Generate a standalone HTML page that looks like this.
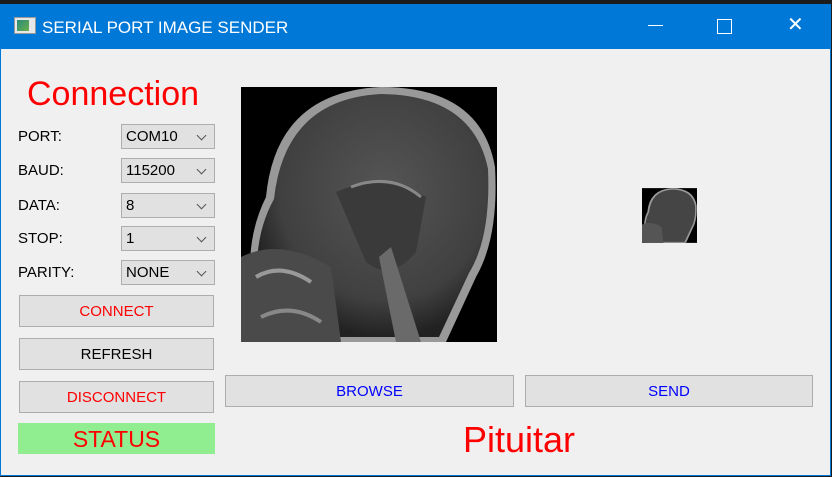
<!DOCTYPE html>
<html><head><meta charset="utf-8">
<style>
*{box-sizing:border-box;margin:0;padding:0}
body{width:832px;height:477px;overflow:hidden;background:#1c1c1c;font-family:"Liberation Sans",sans-serif;position:relative}
.abs{position:absolute}
.win{left:0;top:4px;width:831px;height:472px;background:#f0f0f0;border:1px solid #0078d7}
.title{left:0;top:4px;width:831px;height:45px;background:#0078d7;color:#fff}
.lbl{font-size:15px;color:#000}
.combo{width:94px;height:25px;border:1px solid #adadad;background:#e1e1e1;font-size:15px;padding:3px 0 0 4px;color:#000}
.combo:after{content:"";position:absolute;right:9px;top:7px;width:6px;height:6px;border-right:1px solid #555;border-bottom:1px solid #555;transform:rotate(45deg)}
.btn{border:1px solid #adadad;background:#e1e1e1;font-size:15px;text-align:center;display:flex;align-items:center;justify-content:center}
</style></head><body>
<div class="abs win"></div>
<div class="abs title">
 <div class="abs" style="left:14px;top:13px;width:22px;height:17px;background:#e8e8e8;border:1px solid #999">
  <div class="abs" style="left:2px;top:2px;width:12px;height:11px;background:linear-gradient(135deg,#2a8a7a,#6ab04c)"></div></div>
 <div class="abs" style="left:42px;top:14px;font-size:17px">SERIAL PORT IMAGE SENDER</div>
 <div class="abs" style="left:648px;top:21px;width:15px;height:1px;background:#fff"></div>
 <div class="abs" style="left:717px;top:15px;width:15px;height:15px;border:1px solid #fff"></div>
 <div class="abs" style="left:787px;top:10px;width:20px;height:22px;color:#fff;font-size:20px;line-height:22px;font-weight:100">✕</div>
</div>
<div class="abs" style="left:27px;top:75px;font-size:34px;color:#ff0000">Connection</div>

<div class="abs lbl" style="left:18px;top:128px">PORT:</div>
<div class="abs combo" style="left:121px;top:124px">COM10</div>
<div class="abs lbl" style="left:18px;top:162px">BAUD:</div>
<div class="abs combo" style="left:121px;top:158px">115200</div>
<div class="abs lbl" style="left:18px;top:197px">DATA:</div>
<div class="abs combo" style="left:121px;top:193px">8</div>
<div class="abs lbl" style="left:18px;top:230px">STOP:</div>
<div class="abs combo" style="left:121px;top:226px">1</div>
<div class="abs lbl" style="left:18px;top:264px">PARITY:</div>
<div class="abs combo" style="left:121px;top:260px">NONE</div>

<div class="abs btn" style="left:19px;top:295px;width:195px;height:32px;color:#ff0000">CONNECT</div>
<div class="abs btn" style="left:19px;top:338px;width:195px;height:32px;color:#000">REFRESH</div>
<div class="abs btn" style="left:19px;top:381px;width:195px;height:32px;color:#ff0000">DISCONNECT</div>
<div class="abs" style="left:18px;top:423px;width:197px;height:31px;background:#90ee90;color:#ff0000;font-size:23px;text-align:center;line-height:32px">STATUS</div>

<svg class="abs" style="left:241px;top:87px" width="256" height="255" viewBox="0 0 256 255">
 <defs><radialGradient id="g1" cx="55%" cy="40%" r="60%"><stop offset="0" stop-color="#555"/><stop offset="0.75" stop-color="#404040"/><stop offset="1" stop-color="#222"/></radialGradient></defs>
 <rect width="256" height="255" fill="#000"/>
 <path d="M25 110 Q35 5 140 0 Q240 0 254 80 Q258 150 235 190 L205 255 L20 255 L10 200 Q5 150 25 110 Z" fill="#999"/>
 <path d="M33 112 Q44 12 140 7 Q232 8 247 82 Q250 150 228 186 L198 250 L25 250 L17 200 Q12 150 33 112 Z" fill="url(#g1)"/>
 <path d="M95 105 Q140 85 185 110 L175 165 Q150 195 125 175 Z" fill="#3a3a3a"/>
 <path d="M110 100 Q150 85 180 110" stroke="#888" stroke-width="3" fill="none"/>
 <path d="M150 160 L180 255 L155 255 L138 170 Z" fill="#6a6a6a"/>
 <path d="M0 170 Q40 150 90 180 L100 255 L0 255 Z" fill="#4a4a4a"/>
 <path d="M15 190 Q40 175 70 195" stroke="#999" stroke-width="4" fill="none"/>
 <path d="M20 230 Q50 215 80 235" stroke="#888" stroke-width="4" fill="none"/>
</svg>
<svg class="abs" style="left:642px;top:188px" width="55" height="55" viewBox="0 0 256 255">
 <rect width="256" height="255" fill="#000"/>
 <path d="M25 110 Q35 5 140 0 Q240 0 254 80 Q258 150 235 190 L205 255 L20 255 L10 200 Q5 150 25 110 Z" fill="#999"/>
 <path d="M33 112 Q44 12 140 7 Q232 8 247 82 Q250 150 228 186 L198 250 L25 250 L17 200 Q12 150 33 112 Z" fill="#454545"/>
 <path d="M0 170 Q40 150 90 180 L100 255 L0 255 Z" fill="#555"/>
</svg>

<div class="abs btn" style="left:225px;top:375px;width:289px;height:32px;color:#0000ff">BROWSE</div>
<div class="abs btn" style="left:525px;top:375px;width:288px;height:32px;color:#0000ff">SEND</div>
<div class="abs" style="left:463px;top:419px;font-size:36px;color:#ff0000">Pituitar</div>
</body></html>
